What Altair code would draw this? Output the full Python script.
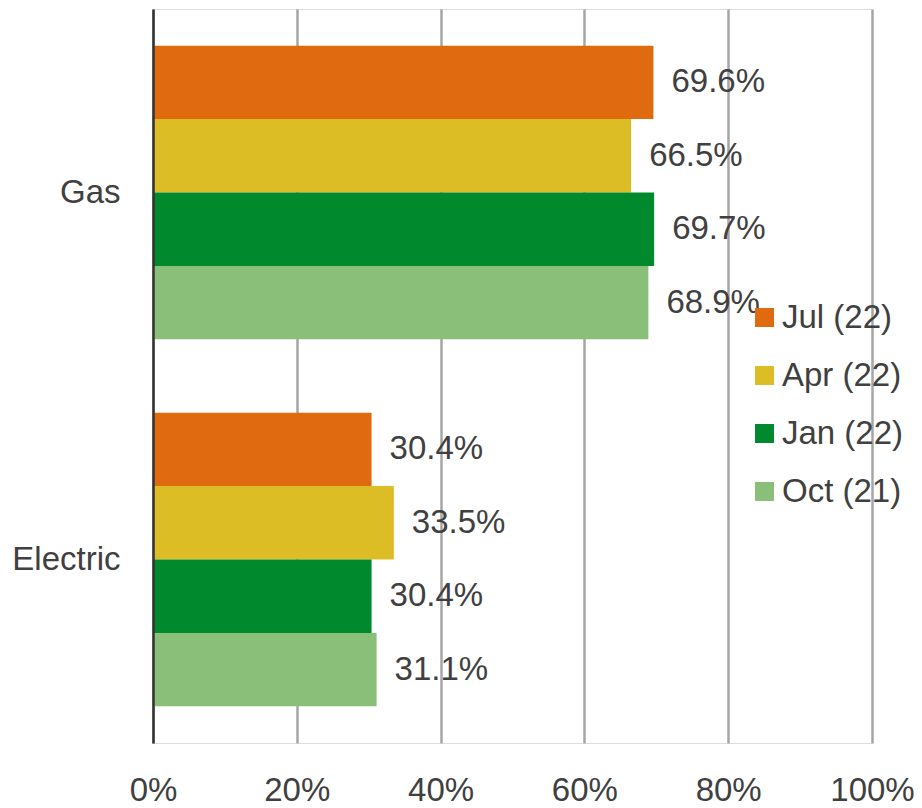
import altair as alt
import pandas as pd

categories = ["Gas", "Electric"]
series = ["Jul (22)", "Apr (22)", "Jan (22)", "Oct (21)"]
gas_values = [69.6, 66.5, 69.7, 68.9]
electric_values = [30.4, 33.5, 30.4, 31.1]
colors = ["#DF6A10", "#DCBD25", "#00892D", "#8ABF79"]
x_ticks = [0, 20, 40, 60, 80, 100]

rows = []
for cat, vals in zip(categories, [gas_values, electric_values]):
    for s, v in zip(series, vals):
        rows.append({"category": cat, "series": s, "value": v, "label": f"{v:.1f}%"})
df = pd.DataFrame(rows)

x = alt.X(
    "value:Q",
    scale=alt.Scale(domain=[0, 100], nice=False, zero=True),
    axis=alt.Axis(
        title=None,
        values=x_ticks,
        labelExpr="datum.value + '%'",
        labelFont="Liberation Sans",
        labelFontSize=33,
        labelColor="#404040",
        labelPadding=31,
        labelFlush=False,
        labelOverlap=False,
        ticks=False,
        domain=False,
        grid=True,
        gridColor="#A6A6A6",
        gridWidth=2.5,
    ),
)
y = alt.Y(
    "category:N",
    sort=categories,
    scale=alt.Scale(paddingInner=0.2, paddingOuter=0.1),
    axis=alt.Axis(
        title=None,
        labelFont="Liberation Sans",
        labelFontSize=33,
        labelColor="#404040",
        labelPadding=33,
        ticks=False,
        domainColor="#333333",
        domainWidth=2.5,
        grid=False,
        zindex=1,
    ),
)
yoff = alt.YOffset("series:N", sort=series, scale=alt.Scale(paddingInner=0, paddingOuter=0))

color = alt.Color(
    "series:N",
    scale=alt.Scale(domain=series, range=colors),
    legend=alt.Legend(
        orient="none",
        legendX=595,
        legendY=292,
        title=None,
        symbolType="square",
        symbolSize=361,
        symbolStrokeWidth=0,
        symbolOpacity=1,
        labelFont="Liberation Sans",
        labelFontSize=33,
        labelColor="#404040",
        labelOffset=1,
        rowPadding=24,
        padding=0,
    ),
)

bars = alt.Chart(df).mark_bar(opacity=1).encode(x=x, y=y, yOffset=yoff, color=color)
text = alt.Chart(df).mark_text(
    align="left", baseline="middle", dx=18,
    font="Liberation Sans", fontSize=33, color="#404040"
).encode(x=x, y=y, yOffset=yoff, text="label:N")

chart = (
    alt.layer(bars, text)
    .properties(
        width=719,
        height=734,
        autosize=alt.AutoSizeParams(type="none"),
        padding={"left": 145, "top": 1, "right": 42, "bottom": 64},
    )
    .configure_view(stroke=None)
    .configure(background="white")
)

chart.save("out.html", embed_options={"renderer": "svg", "actions": False})
